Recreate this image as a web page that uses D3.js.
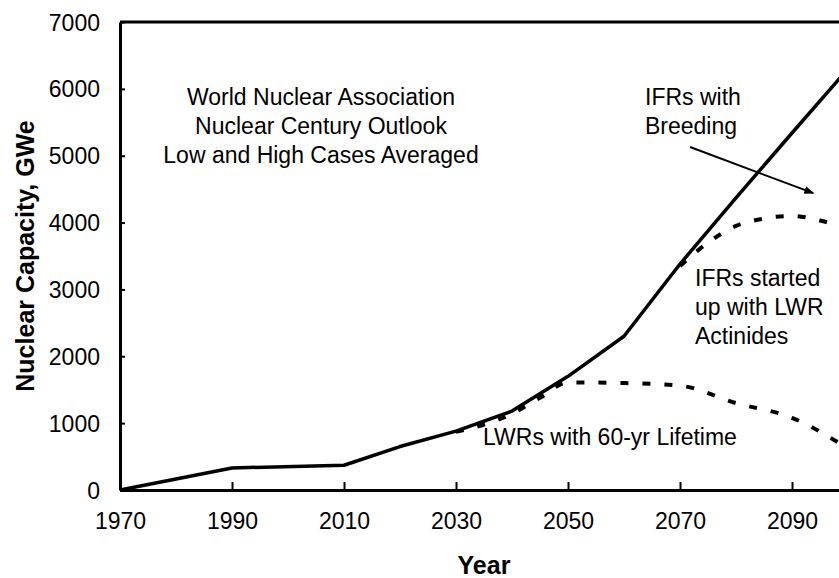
<!DOCTYPE html>
<html>
<head>
<meta charset="utf-8">
<script src="https://cdn.jsdelivr.net/npm/d3@7"></script>
<style>
  body { margin: 0; background: #fff; }
  text { font-family: Arial, "Liberation Sans", sans-serif; fill: #000; }
</style>
</head>
<body>
<script>
const width = 839
const height = 578

// total capacity (WNA outlook average), GWe
const years = [1970, 1990, 2010, 2020, 2030, 2040, 2050, 2060, 2070, 2080, 2090, 2100]
const total = [0, 330, 370, 650, 880, 1180, 1700, 2300, 3380, 4370, 5340, 6300]

// LWRs with 60-yr lifetime
const lwrYears = [2030, 2040, 2045, 2050, 2060, 2070, 2080, 2090, 2100]
const lwr = [870, 1140, 1380, 1610, 1600, 1560, 1300, 1080, 620]

// IFRs started up with LWR actinides
const ifrYears = [2070, 2075, 2080, 2085, 2090, 2095, 2100]
const ifr = [3350, 3700, 3950, 4060, 4100, 4030, 3900]

const xTicks = [1970, 1990, 2010, 2030, 2050, 2070, 2090]
const yTicks = [0, 1000, 2000, 3000, 4000, 5000, 6000, 7000]

const margin = {top: 22, left: 120, bottom: 88}
const fs = 23

const svg = d3.select("body").append("svg")
    .attr("width", width)
    .attr("height", height)

const x = d3.scaleLinear().domain([1970, 2100]).range([margin.left, margin.left + 130 * 5.6])
const y = d3.scaleLinear().domain([0, 7000]).range([height - margin.bottom, margin.top])

// top border
svg.append("line")
    .attr("x1", x(1970)).attr("x2", x(2100))
    .attr("y1", y(7000)).attr("y2", y(7000))
    .attr("stroke", "#000").attr("stroke-width", 3)

const xAxis = svg.append("g")
    .attr("transform", `translate(0,${y(0)})`)
    .call(d3.axisBottom(x).tickValues(xTicks).tickFormat(d3.format("d")).tickSizeInner(-8).tickSizeOuter(0).tickPadding(23))
const yAxis = svg.append("g")
    .attr("transform", `translate(${x(1970)},0)`)
    .call(d3.axisLeft(y).tickValues(yTicks).tickFormat(d3.format("d")).tickSizeInner(-5).tickSizeOuter(0).tickPadding(20))

for (const ax of [xAxis, yAxis]) {
  ax.select(".domain").attr("stroke", "#000").attr("stroke-width", 3)
  ax.selectAll(".tick line").attr("stroke", "#000").attr("stroke-width", 2)
  ax.selectAll(".tick text").attr("font-size", fs).attr("font-family", "Arial, 'Liberation Sans', sans-serif")
}
yAxis.selectAll(".tick text").attr("dy", "0.35em")

// lines
const line = d3.line().x(d => x(d[0])).y(d => y(d[1]))
const curve = d3.line().x(d => x(d[0])).y(d => y(d[1])).curve(d3.curveMonotoneX)

svg.append("path")
    .datum(d3.zip(lwrYears, lwr))
    .attr("d", curve)
    .attr("fill", "none").attr("stroke", "#000").attr("stroke-width", 4)
    .attr("stroke-dasharray", "8,14")
svg.append("path")
    .datum(d3.zip(ifrYears, ifr))
    .attr("d", curve)
    .attr("fill", "none").attr("stroke", "#000").attr("stroke-width", 4)
    .attr("stroke-dasharray", "8,14")
svg.append("path")
    .datum(d3.zip(years, total))
    .attr("d", line)
    .attr("fill", "none").attr("stroke", "#000").attr("stroke-width", 3.5)
    .attr("stroke-linejoin", "round")

// arrow
svg.append("defs").append("marker")
    .attr("id", "head")
    .attr("viewBox", "0 0 10 10")
    .attr("refX", 9).attr("refY", 5)
    .attr("markerWidth", 5).attr("markerHeight", 5)
    .attr("orient", "auto")
  .append("path")
    .attr("d", "M0,1 L10,5 L0,9 Z")
    .attr("fill", "#000")
svg.append("line")
    .attr("x1", x(2071.8)).attr("y1", y(5130))
    .attr("x2", x(2093.8)).attr("y2", y(4440))
    .attr("stroke", "#000").attr("stroke-width", 2)
    .attr("marker-end", "url(#head)")

// annotations
function label(lines, px, py, anchor) {
  const t = svg.append("text").attr("font-size", fs).attr("text-anchor", anchor)
  lines.forEach((s, i) => {
    t.append("tspan").attr("x", px).attr("y", py + i * 29).text(s)
  })
}
label(["World Nuclear Association", "Nuclear Century Outlook", "Low and High Cases Averaged"], 321, 105, "middle")
label(["IFRs with", "Breeding"], 645, 105, "start")
label(["IFRs started", "up with LWR", "Actinides"], 695, 286, "start")
label(["LWRs with 60-yr Lifetime"], 483, 445, "start")

// axis titles
svg.append("text")
    .attr("x", x(2035)).attr("y", 574)
    .attr("text-anchor", "middle").attr("font-size", 25).attr("font-weight", "bold")
    .text("Year")
svg.append("text")
    .attr("transform", `translate(34,${y(3500)}) rotate(-90)`)
    .attr("text-anchor", "middle").attr("font-size", 25).attr("font-weight", "bold")
    .text("Nuclear Capacity, GWe")
</script>
</body>
</html>
